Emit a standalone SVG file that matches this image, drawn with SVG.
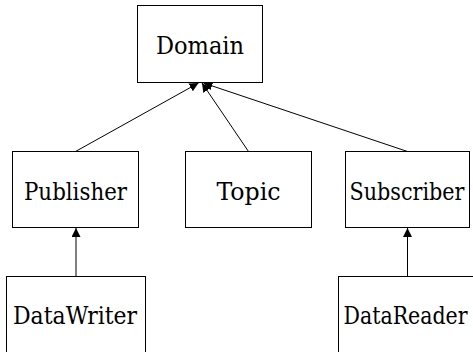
<svg xmlns="http://www.w3.org/2000/svg" width="473" height="352" viewBox="0 0 473 352">
<style>
.box{fill:#fff;stroke:#000;stroke-width:1}
.lbl{font-family:'DejaVu Serif Condensed','DejaVu Serif',serif;font-size:25px;fill:#000;text-anchor:middle}
.edge{stroke:#000;stroke-width:1;fill:none;marker-end:url(#ah)}
</style>
<defs>
<marker id="ah" viewBox="0 0 10 10" refX="10" refY="5" markerWidth="9" markerHeight="9" markerUnits="userSpaceOnUse" orient="auto">
<path d="M0,0 L10,5 L0,10 z" fill="#000"/>
</marker>
</defs>
<rect width="473" height="352" fill="#fff"/>
<g id="connectors">
<line class="edge" x1="75.5" y1="151.5" x2="198.5" y2="83"/>
<line class="edge" x1="248.5" y1="151.5" x2="202" y2="83"/>
<line class="edge" x1="407.5" y1="151.5" x2="203.5" y2="83"/>
<line class="edge" x1="76" y1="276.5" x2="76" y2="228"/>
<line class="edge" x1="407.5" y1="276.5" x2="407.5" y2="228"/>
</g>
<g id="domain"><rect class="box" x="137.5" y="5.5" width="125" height="77"/><text class="lbl" x="200" y="54" textLength="88" lengthAdjust="spacingAndGlyphs">Domain</text></g>
<g id="publisher"><rect class="box" x="12.5" y="151.5" width="126" height="76"/><text class="lbl" x="75.5" y="200" textLength="103" lengthAdjust="spacingAndGlyphs">Publisher</text></g>
<g id="topic"><rect class="box" x="185.5" y="151.5" width="126" height="76"/><text class="lbl" x="248.5" y="200" textLength="64" lengthAdjust="spacingAndGlyphs">Topic</text></g>
<g id="subscriber"><rect class="box" x="345.5" y="151.5" width="124" height="76"/><text class="lbl" x="407" y="200" textLength="115" lengthAdjust="spacingAndGlyphs">Subscriber</text></g>
<g id="datawriter"><rect class="box" x="6.5" y="276.5" width="139" height="80"/><text class="lbl" x="75" y="324" textLength="124" lengthAdjust="spacingAndGlyphs">DataWriter</text></g>
<g id="datareader"><rect class="box" x="338.5" y="276.5" width="140" height="80"/><text class="lbl" x="405.5" y="324" textLength="124" lengthAdjust="spacingAndGlyphs">DataReader</text></g>
</svg>
